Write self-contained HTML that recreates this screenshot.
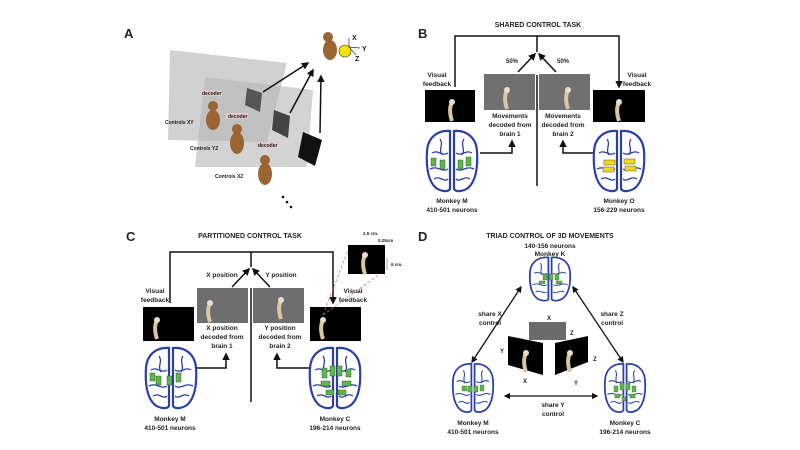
<!DOCTYPE html>
<html><head><meta charset="utf-8"><style>
html,body{margin:0;padding:0;background:#fff}
svg{display:block}
text{font-family:"Liberation Sans",sans-serif;font-weight:bold;fill:#222}
</style></head><body>
<svg width="800" height="450" viewBox="0 0 800 450" xmlns="http://www.w3.org/2000/svg">
<defs>
<marker id="ah" viewBox="0 0 10 10" refX="8" refY="5" markerWidth="5" markerHeight="5" orient="auto-start-reverse"><path d="M0,0 L10,5 L0,10 z" fill="#111"/></marker>
<g id="brain">
<path d="M-2,-30 C-14,-31 -24,-24 -25,-10 C-26,6 -24,20 -16,27 C-10,31 -4,31 -2,28 Z" fill="#fff" stroke="#2b3fa8" stroke-width="2.2"/>
<path d="M2,-30 C14,-31 24,-24 25,-10 C26,6 24,20 16,27 C10,31 4,31 2,28 Z" fill="#fff" stroke="#2b3fa8" stroke-width="2.2"/>
<path d="M-20,-8 C-14,-12 -10,-4 -4,-8 M-22,8 C-14,4 -10,12 -4,8 M20,-8 C14,-12 10,-4 4,-8 M22,8 C14,4 10,12 4,8 M-12,-22 C-8,-16 -14,-12 -10,-6 M12,-22 C8,-16 14,-12 10,-6 M-18,18 C-12,14 -8,22 -4,18 M18,18 C12,14 8,22 4,18" fill="none" stroke="#2b3fa8" stroke-width="1.3"/>
</g>
<g id="hand"><path d="M0,0 C-3,6 -2,13 0,19" stroke="#d9c6a5" stroke-width="4" fill="none"/><circle cx="0" cy="0" r="3" fill="#e8dcc6"/></g>
</defs>

<!-- Panel A -->
<text x="124" y="38" font-size="13">A</text>
<polygon points="170,50 287,63 267,142 168,140" fill="#bdbdbd" opacity="0.7"/>
<polygon points="205,77 313,90 307,167 195,167" fill="#b5b5b5" opacity="0.6"/>
<text x="165" y="124" font-size="5">Controls XY</text>
<text x="190" y="150" font-size="5">Controls YZ</text>
<text x="215" y="178" font-size="5">Controls XZ</text>
<rect x="200" y="90" width="22" height="6" fill="#e5c9c5"/><text x="202" y="95" font-size="5" fill="#844">decoder</text>
<rect x="226" y="113" width="22" height="6" fill="#e5c9c5"/><text x="228" y="118" font-size="5" fill="#844">decoder</text>
<rect x="256" y="142" width="22" height="6" fill="#e5c9c5"/><text x="258" y="147" font-size="5" fill="#844">decoder</text>
<g fill="#9a6433">
<ellipse cx="213" cy="120" rx="7" ry="10"/><circle cx="213" cy="106" r="5"/>
<ellipse cx="237" cy="143" rx="7" ry="11"/><circle cx="237" cy="129" r="5"/>
<ellipse cx="265" cy="174" rx="7" ry="11"/><circle cx="265" cy="160" r="5"/>
<ellipse cx="330" cy="50" rx="7" ry="10"/><circle cx="328" cy="37" r="5"/>
</g>
<circle cx="345" cy="51" r="6" fill="#f6e400" stroke="#333" stroke-width="0.6"/>
<g stroke="#333" stroke-width="0.7"><line x1="349" y1="47" x2="349" y2="38"/><line x1="349" y1="47" x2="360" y2="48"/><line x1="349" y1="47" x2="356" y2="55"/></g>
<text x="352" y="40" font-size="7" font-weight="normal">X</text><text x="362" y="51" font-size="7" font-weight="normal">Y</text><text x="355" y="61" font-size="7" font-weight="normal">Z</text>
<polygon points="247,88 262,93 260,112 245,105" fill="#555"/>
<polygon points="274,110 290,116 288,138 272,130" fill="#444"/>
<polygon points="303,132 322,140 315,166 298,157" fill="#111"/>
<g stroke="#111" stroke-width="1.5" marker-end="url(#ah)">
<line x1="263" y1="92" x2="308" y2="63"/><line x1="290" y1="113" x2="313" y2="70"/><line x1="320" y1="133" x2="321" y2="76"/>
</g>
<g fill="#111"><circle cx="283" cy="197" r="1.3"/><circle cx="287" cy="202" r="1.3"/><circle cx="291" cy="207" r="1.3"/></g>

<!-- Panel B -->
<text x="418" y="38" font-size="13">B</text>
<text x="538" y="27" font-size="7" text-anchor="middle">SHARED CONTROL TASK</text>
<g stroke="#111" stroke-width="1.5" fill="none">
<polyline points="455,87 455,36 619,36 619,87" marker-end="url(#ah)"/>
<line x1="537" y1="36" x2="537" y2="52"/>
<line x1="537" y1="75" x2="537" y2="186"/>
<line x1="518" y1="72" x2="535" y2="54" marker-end="url(#ah)"/>
<line x1="556" y1="72" x2="539" y2="54" marker-end="url(#ah)"/>
<polyline points="480,153 512,153 512,141" marker-end="url(#ah)"/>
<polyline points="597,153 563,153 563,141" marker-end="url(#ah)"/>
</g>
<text x="512" y="63" font-size="6" text-anchor="middle">50%</text>
<text x="563" y="63" font-size="6" text-anchor="middle">50%</text>
<text x="437" y="77" font-size="6.5" text-anchor="middle">Visual</text><text x="437" y="86" font-size="6.5" text-anchor="middle">feedback</text>
<text x="637" y="77" font-size="6.5" text-anchor="middle">Visual</text><text x="637" y="86" font-size="6.5" text-anchor="middle">feedback</text>
<rect x="425" y="90" width="50" height="32" fill="#000"/><use href="#hand" x="452" y="102"/>
<rect x="484" y="74" width="51" height="36" fill="#707070"/><use href="#hand" x="507" y="90"/>
<rect x="539" y="74" width="51" height="36" fill="#707070"/><use href="#hand" x="568" y="90"/>
<rect x="593" y="90" width="52" height="32" fill="#000"/><use href="#hand" x="619" y="102"/>
<g font-size="6.5" text-anchor="middle">
<text x="510" y="118">Movements</text><text x="510" y="127">decoded from</text><text x="510" y="136">brain 1</text>
<text x="563" y="118">Movements</text><text x="563" y="127">decoded from</text><text x="563" y="136">brain 2</text>
</g>
<use href="#brain" x="452" y="161"/>
<g fill="#5cb84a" stroke="#333" stroke-width="0.4"><rect x="431" y="158" width="5" height="8"/><rect x="440" y="160" width="5" height="9"/><rect x="458" y="160" width="5" height="9"/><rect x="466" y="157" width="5" height="9"/></g>
<use href="#brain" x="619" y="161"/>
<g fill="#f2d81c" stroke="#333" stroke-width="0.4"><rect x="604" y="160" width="11" height="5"/><rect x="603" y="167" width="11" height="5"/><rect x="624" y="159" width="11" height="5"/><rect x="625" y="166" width="11" height="5"/></g>
<g font-size="6.5" text-anchor="middle">
<text x="452" y="203">Monkey M</text><text x="452" y="212">410-501 neurons</text>
<text x="619" y="203">Monkey O</text><text x="619" y="212">156-229 neurons</text>
</g>

<!-- Panel C -->
<text x="126" y="241" font-size="13">C</text>
<text x="250" y="238" font-size="7" text-anchor="middle">PARTITIONED CONTROL TASK</text>
<g stroke="#111" stroke-width="1.5" fill="none">
<polyline points="170,303 170,252 333,252 333,303" marker-end="url(#ah)"/>
<line x1="251" y1="252" x2="251" y2="267"/>
<line x1="251" y1="288" x2="251" y2="402"/>
<line x1="232" y1="287" x2="249" y2="269" marker-end="url(#ah)"/>
<line x1="270" y1="287" x2="253" y2="269" marker-end="url(#ah)"/>
<polyline points="193,368 226,368 226,354" marker-end="url(#ah)"/>
<polyline points="310,368 277,368 277,354" marker-end="url(#ah)"/>
</g>
<text x="222" y="277" font-size="6.5" text-anchor="middle">X position</text>
<text x="281" y="277" font-size="6.5" text-anchor="middle">Y position</text>
<text x="155" y="293" font-size="6.5" text-anchor="middle">Visual</text><text x="155" y="302" font-size="6.5" text-anchor="middle">feedback</text>
<text x="353" y="293" font-size="6.5" text-anchor="middle">Visual</text><text x="353" y="302" font-size="6.5" text-anchor="middle">feedback</text>
<rect x="143" y="307" width="51" height="34" fill="#000"/><use href="#hand" x="157" y="320"/>
<rect x="197" y="288" width="51" height="35" fill="#6e6e6e"/><use href="#hand" x="210" y="303"/>
<rect x="253" y="288" width="51" height="35" fill="#6e6e6e"/><use href="#hand" x="281" y="300"/>
<rect x="310" y="307" width="51" height="34" fill="#000"/><use href="#hand" x="323" y="320"/>
<rect x="348" y="245" width="37" height="29" fill="#000"/><use href="#hand" x="365" y="255"/>
<g stroke="#e06050" stroke-width="0.7" stroke-dasharray="3,2"><line x1="323" y1="315" x2="348" y2="250"/><line x1="323" y1="315" x2="380" y2="274"/></g>
<text x="363" y="235" font-size="4.5" font-weight="normal">2.5 cm.</text><text x="378" y="242" font-size="4.5" font-weight="normal">0.25cm</text><text x="391" y="266" font-size="4.5" font-weight="normal">6 cm.</text>
<line x1="387" y1="258" x2="387" y2="270" stroke="#4a6ad0" stroke-width="0.6"/>
<g font-size="6.5" text-anchor="middle">
<text x="222" y="330">X position</text><text x="222" y="339">decoded from</text><text x="222" y="348">brain 1</text>
<text x="280" y="330">Y position</text><text x="280" y="339">decoded from</text><text x="280" y="348">brain 2</text>
</g>
<use href="#brain" x="171" y="378"/>
<g fill="#5cb84a" stroke="#333" stroke-width="0.4"><rect x="150" y="373" width="5" height="8"/><rect x="156" y="376" width="5" height="9"/><rect x="167" y="376" width="5" height="9"/><rect x="176" y="373" width="5" height="9"/></g>
<use href="#brain" x="335" y="378"/>
<g fill="#5cb84a" stroke="#333" stroke-width="0.4"><rect x="322" y="368" width="5" height="10"/><rect x="330" y="366" width="5" height="10"/><rect x="337" y="366" width="5" height="10"/><rect x="346" y="369" width="5" height="8"/><rect x="321" y="381" width="9" height="5"/><rect x="342" y="381" width="9" height="5"/><rect x="326" y="390" width="8" height="5"/><rect x="338" y="390" width="8" height="5"/></g>
<g font-size="6.5" text-anchor="middle">
<text x="170" y="421">Monkey M</text><text x="170" y="430">410-501 neurons</text>
<text x="335" y="421">Monkey C</text><text x="335" y="430">196-214 neurons</text>
</g>

<!-- Panel D -->
<text x="418" y="241" font-size="13">D</text>
<text x="550" y="238" font-size="7" text-anchor="middle">TRIAD CONTROL OF 3D MOVEMENTS</text>
<text x="550" y="248" font-size="6.5" text-anchor="middle">140-156 neurons</text>
<text x="550" y="256" font-size="6.5" text-anchor="middle">Monkey K</text>
<g transform="translate(550,279) scale(0.8,0.72)"><use href="#brain"/></g>
<g fill="#5cb84a" stroke="#333" stroke-width="0.3"><rect x="543" y="274" width="4" height="6"/><rect x="549" y="274" width="4" height="6"/><rect x="555" y="274" width="4" height="6"/><rect x="539" y="281" width="6" height="3"/><rect x="556" y="281" width="6" height="3"/></g>
<g transform="translate(473,388) scale(0.8,0.8)"><use href="#brain"/></g>
<g fill="#5cb84a" stroke="#333" stroke-width="0.3"><rect x="462" y="386" width="5" height="5"/><rect x="468" y="386" width="4" height="6"/><rect x="474" y="386" width="4" height="6"/><rect x="480" y="385" width="4" height="6"/></g>
<g transform="translate(625,388) scale(0.8,0.8)"><use href="#brain"/></g>
<g fill="#5cb84a" stroke="#333" stroke-width="0.3"><rect x="620" y="383" width="4" height="7"/><rect x="626" y="383" width="4" height="7"/><rect x="614" y="386" width="4" height="6"/><rect x="632" y="386" width="4" height="6"/><rect x="615" y="394" width="5" height="4"/><rect x="630" y="394" width="5" height="4"/><rect x="622" y="397" width="4" height="4"/></g>
<g stroke="#111" stroke-width="1.3" marker-start="url(#ah)" marker-end="url(#ah)">
<line x1="521" y1="287" x2="472" y2="362"/>
<line x1="573" y1="287" x2="623" y2="362"/>
<line x1="505" y1="396" x2="597" y2="396"/>
</g>
<g font-size="6.5" text-anchor="middle">
<text x="490" y="316">share X</text><text x="490" y="325">control</text>
<text x="612" y="316">share Z</text><text x="612" y="325">control</text>
<text x="553" y="407">share Y</text><text x="553" y="416">control</text>
</g>
<text x="547" y="320" font-size="6" font-weight="normal">X</text>
<rect x="529" y="322" width="37" height="18" fill="#6b6b6b"/>
<text x="570" y="335" font-size="6" font-weight="normal">Z</text>
<polygon points="508,336 543,343 543,375 508,365" fill="#000"/><use href="#hand" x="526" y="353"/>
<polygon points="555,343 588,336 588,362 555,375" fill="#000"/><use href="#hand" x="570" y="353"/>
<text x="500" y="353" font-size="6" font-weight="normal">Y</text>
<text x="523" y="383" font-size="6" font-weight="normal">X</text>
<text x="593" y="361" font-size="6" font-weight="normal">Z</text>
<text x="574" y="385" font-size="6" font-weight="normal">Y</text>
<g font-size="6.5" text-anchor="middle">
<text x="473" y="425">Monkey M</text><text x="473" y="434">410-501 neurons</text>
<text x="625" y="425">Monkey C</text><text x="625" y="434">196-214 neurons</text>
</g>
</svg>
</body></html>
